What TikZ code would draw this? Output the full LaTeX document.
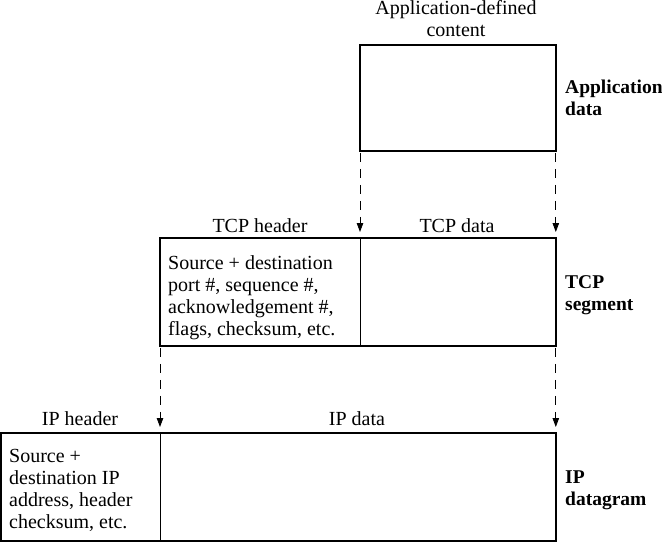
\documentclass[tikz,border=0pt]{standalone}
\usepackage{fontspec}
\setmainfont{Liberation Serif}
\usetikzlibrary{arrows.meta}
\begin{document}
\begin{tikzpicture}[x=1pt,y=-1pt,
  outer/.style={draw,line width=1.8pt},
  cell/.style={draw,line width=0.8pt,inner sep=0pt,anchor=north west},
  flow/.style={draw,line width=0.8pt,dash pattern=on 9pt off 7pt,-{Triangle[length=9pt,width=6.5pt]}},
  lbl/.style={font=\fontsize{20}{22}\selectfont,inner sep=0pt},
  body/.style={lbl,align=left,anchor=north west},
  side/.style={font=\fontsize{19.5}{22}\selectfont\bfseries,inner sep=0pt,align=left,anchor=north west}
]
\useasboundingbox (0,0) rectangle (662,542);
% application data
\node[cell,minimum width=195pt,minimum height=105pt] (app) at (360,45) {};
\draw[outer] (app.north west) rectangle (app.south east);
% TCP segment
\node[cell,minimum width=200pt,minimum height=107pt] (tcph) at (160,238) {};
\node[cell,minimum width=195pt,minimum height=107pt] (tcpd) at (360,238) {};
\draw[outer] (tcph.north west) rectangle (tcpd.south east);
% IP datagram
\node[cell,minimum width=159pt,minimum height=107pt] (iph) at (1,433) {};
\node[cell,minimum width=395pt,minimum height=107pt] (ipd) at (160,433) {};
\draw[outer] (iph.north west) rectangle (ipd.south east);
% arrows
\draw[flow] ([yshift=-2pt]app.south west) -- ([yshift=6pt]tcpd.north west);
\draw[flow] ([yshift=-2pt]app.south east) -- ([yshift=6pt]tcpd.north east);
\draw[flow] ([yshift=-2pt]tcph.south west) -- ([yshift=6pt]ipd.north west);
\draw[flow] ([yshift=-2pt]tcpd.south east) -- ([yshift=6pt]ipd.north east);
% labels
\node[lbl,align=center,anchor=north] (appdef) at (456,0.5) {Application-defined\\content};
\node[side] (appname) at (565,80) {Application\\data};
\node[lbl,anchor=base] (tcphl) at (260,232.5) {TCP header};
\node[lbl,anchor=base] (tcpdl) at (457,232.5) {TCP data};
\node[body] (tcpbody) at (168,255.3) {Source + destination\\port \#, sequence \#,\\acknowledgement \#,\\flags, checksum, etc.};
\node[side] (tcpname) at (565,275) {TCP\\segment};
\node[lbl,anchor=base] (iphl) at (80,425.5) {IP header};
\node[lbl,anchor=base] (ipdl) at (357,425.5) {IP data};
\node[body] (ipbody) at (9,449.3) {Source +\\destination IP\\address, header\\checksum, etc.};
\node[side] (ipname) at (565,470.5) {IP\\datagram};
\end{tikzpicture}
\end{document}
